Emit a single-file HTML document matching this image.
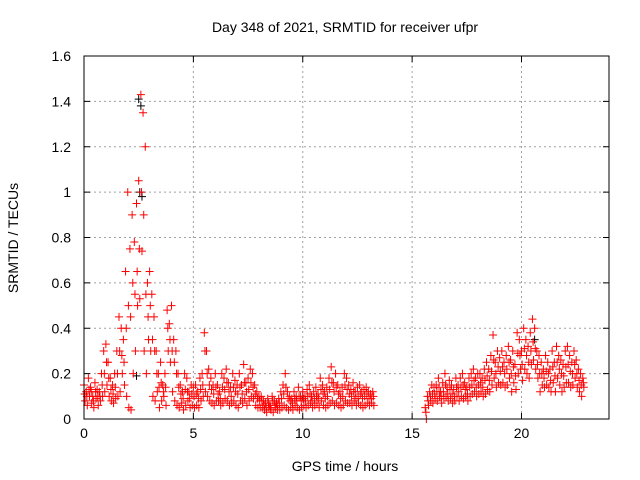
<!DOCTYPE html>
<html><head><meta charset="utf-8"><style>
html,body{margin:0;padding:0;background:#fff;}
svg{display:block;font-family:"Liberation Sans",sans-serif;}
</style></head><body>
<svg id="chart" width="640" height="480">
<rect width="640" height="480" fill="#fff"/>
<text x="345" y="32" font-size="14" text-anchor="middle">Day 348 of 2021, SRMTID for receiver ufpr</text>
<text x="345" y="471" font-size="14" text-anchor="middle">GPS time / hours</text>
<text transform="translate(18,238) rotate(-90)" font-size="14" text-anchor="middle">SRMTID / TECUs</text>
<g id="grid"></g>
<g id="marks"></g>
<rect x="84" y="56" width="525" height="363" fill="none" stroke="#000" stroke-width="1"/>
</svg>
<script>
const xTicks=[0,5,10,15,20];
const yTicks=[0,0.2,0.4,0.6,0.8,1,1.2,1.4,1.6];
const seg1Start=0.0;
const seg1A=[.15,.12,.18,.14,.1,.16,.13,.12,.2,.3,.33,
.25,.18,.15,.2,.3,.45,.4,.35,.65,1.0,
.75,.9,.78,.95,1.05,1.43,1.35,1.2,.6,.65,
.55,.45,.3,.2,.25,.15,.2,.48,.42,.5,
.35,.3,.2,.15,.12,.2,.18,.12,.15,.14,
.15,.12,.18,.2,.38,.3,.22,.18,.15,.2,
.15,.12,.2,.18,.22,.16,.14,.2,.17,.15,
.2,.15,.24,.16,.18,.22,.2,.15,.12,.1,
.1,.08,.07,.09,.06,.1,.08,.07,.09,.12,
.15,.2,.12,.1,.09,.12,.1,.14,.1,.12,
.1,.13,.15,.1,.12,.14,.11,.18,.15,.12,
.14,.18,.23,.16,.2,.15,.12,.14,.2,.18,
.15,.13,.16,.12,.14,.15,.12,.13,.14,.12,.11,.12];
const seg1C=[.11,.1,.13,.12,.08,.12,.1,.1,.15,.2,.25,
.18,.13,.11,.14,.2,.3,.28,.25,.4,.5,
.45,.6,.55,.65,.75,1.0,.9,.55,.45,.5,
.35,.3,.2,.14,.16,.12,.14,.4,.35,.3,
.25,.2,.14,.11,.09,.13,.12,.09,.11,.1,
.11,.09,.13,.15,.3,.2,.15,.13,.11,.14,
.11,.09,.14,.13,.16,.12,.1,.14,.12,.11,
.14,.11,.16,.12,.13,.16,.14,.11,.09,.08,
.08,.06,.05,.07,.05,.08,.06,.06,.07,.09,
.11,.14,.09,.08,.07,.09,.08,.1,.08,.09,
.08,.1,.11,.08,.09,.1,.09,.13,.11,.09,
.1,.13,.16,.12,.14,.11,.09,.1,.15,.13,
.11,.1,.12,.09,.1,.11,.09,.1,.11,.09,.09,.1];
const seg1B=[.08,.06,.1,.07,.05,.09,.06,.08,.1,.12,.15,
.1,.08,.07,.09,.1,.12,.2,.15,.1,.05,
.04,.2,.3,.5,.53,.74,.3,.2,.35,.3,
.1,.08,.12,.05,.08,.1,.06,.3,.25,.12,
.08,.06,.05,.07,.04,.06,.08,.05,.06,.05,
.06,.05,.08,.1,.12,.1,.08,.07,.06,.08,
.08,.06,.07,.09,.08,.06,.07,.08,.06,.05,
.08,.07,.09,.06,.08,.1,.09,.06,.05,.05,
.05,.04,.03,.05,.04,.03,.05,.04,.04,.05,
.06,.05,.04,.05,.04,.06,.05,.04,.05,.06,
.05,.06,.07,.05,.06,.07,.05,.08,.06,.05,
.06,.07,.08,.06,.07,.06,.05,.06,.08,.07,
.07,.06,.08,.06,.07,.06,.05,.06,.07,.06,.07,.06];
const seg2Start=15.6;
const seg2A=[.05,.1,.12,.15,.14,
.15,.18,.12,.16,.2,.14,.17,.15,.13,.18,
.15,.18,.2,.16,.14,.18,.2,.22,.18,.2,
.2,.18,.22,.25,.22,.28,.37,.25,.3,.27,
.3,.25,.28,.32,.26,.3,.24,.38,.35,.3,
.4,.35,.32,.38,.44,.4,.3,.28,.25,.22,
.28,.25,.22,.3,.25,.32,.28,.26,.24,.3,
.32,.28,.25,.3,.26,.22,.2,.18];
const seg2C=[.03,.08,.1,.11,.11,
.12,.14,.1,.12,.15,.11,.13,.11,.1,.14,
.12,.14,.15,.13,.11,.14,.15,.17,.14,.15,
.16,.14,.17,.19,.17,.21,.26,.2,.23,.21,
.23,.2,.22,.25,.2,.23,.19,.29,.28,.24,
.31,.28,.25,.3,.34,.31,.24,.2,.2,.18,
.21,.2,.17,.23,.19,.25,.22,.2,.19,.23,
.24,.21,.2,.24,.2,.17,.15,.16];
const seg2B=[.0,.06,.08,.07,.09,
.08,.1,.07,.09,.1,.08,.09,.07,.08,.1,
.08,.1,.09,.1,.08,.1,.11,.12,.1,.11,
.12,.1,.11,.13,.12,.15,.18,.14,.16,.15,
.16,.14,.15,.18,.12,.16,.13,.2,.22,.17,
.22,.2,.18,.24,.26,.22,.18,.12,.15,.14,
.15,.14,.12,.16,.12,.18,.15,.12,.14,.16,
.16,.14,.15,.18,.14,.12,.1,.14];
const blackX=[2.5,2.6,2.55,2.65,2.4,5.6,10.0,20.6];
const blackY=[1.41,1.38,1.0,0.98,0.19,0.3,0.1,0.35];
const step=0.1;
const NS="http://www.w3.org/2000/svg";
const X0=84,X1=609,Y0=419,Y1=56,XMAX=24,YMAX=1.6;
function sx(v){return X0+(X1-X0)*v/XMAX;}
function sy(v){return Y0-(Y0-Y1)*v/YMAX;}
const svg=document.getElementById('chart');
const grid=document.getElementById('grid');
const marks=document.getElementById('marks');
function mk(tag,attrs,parent){const e=document.createElementNS(NS,tag);for(const k in attrs)e.setAttribute(k,attrs[k]);parent.appendChild(e);return e;}
xTicks.forEach(t=>{
  const x=sx(t);
  if(t>0){const g=mk('line',{x1:x,x2:x,y1:Y1,y2:Y0,stroke:'#a0a0a0','stroke-dasharray':'2,3'},grid);
  
  }
  const tk=mk('line',{x1:x,x2:x,y1:Y0,y2:Y0-6,stroke:'#000'},grid);
  
  
  const tk2=mk('line',{x1:x,x2:x,y1:Y1,y2:Y1+6,stroke:'#000'},grid);
  
  
  const l=mk('text',{x:x,y:Y0+19,'font-size':14,'text-anchor':'middle'},svg);
  l.textContent=String(t);
  
  
});
yTicks.forEach(t=>{
  const y=sy(t);
  if(t>0&&t<YMAX){const g=mk('line',{x1:X0,x2:X1,y1:y,y2:y,stroke:'#a0a0a0','stroke-dasharray':'2,3'},grid);
  
  }
  const tk=mk('line',{x1:X0,x2:X0+6,y1:y,y2:y,stroke:'#000'},grid);
  
  
  const tk2=mk('line',{x1:X1,x2:X1-6,y1:y,y2:y,stroke:'#000'},grid);
  
  
  const l=mk('text',{x:X0-13,y:y+5,'font-size':14,'text-anchor':'end'},svg);
  l.textContent=String(t);
  
  
});
function plus(xv,yv,color){
  const x=sx(xv),y=sy(yv);
  const p=mk('path',{d:`M${x-4},${y}H${x+4}M${x},${y-4}V${y+4}`,stroke:color,'stroke-width':1,fill:'none'},marks);
  
  
}
blackX.forEach((v,i)=>plus(v,blackY[i],'#000'));
seg1B.forEach((v,i)=>plus(seg1Start+i*step+0.05,v,'#f00'));
seg1C.forEach((v,i)=>plus(seg1Start+i*step+0.03,v,'#f00'));
seg1A.forEach((v,i)=>plus(seg1Start+i*step,v,'#f00'));
seg2B.forEach((v,i)=>plus(seg2Start+i*step+0.05,v,'#f00'));
seg2C.forEach((v,i)=>plus(seg2Start+i*step+0.03,v,'#f00'));
seg2A.forEach((v,i)=>plus(seg2Start+i*step,v,'#f00'));
</script>
</body></html>
